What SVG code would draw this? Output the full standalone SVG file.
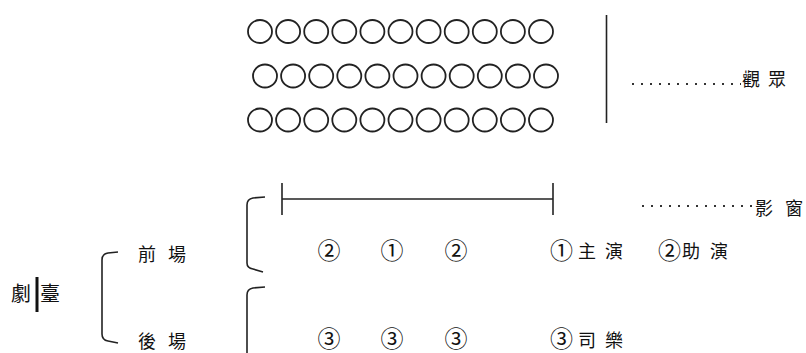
<svg xmlns="http://www.w3.org/2000/svg" width="806" height="353" viewBox="0 0 806 353">
<style>
.seat{fill:none;stroke:#222;stroke-width:1.8}
.ln{fill:none;stroke:#222;stroke-width:1.6}
.dot{fill:none;stroke:#333;stroke-width:2;stroke-dasharray:2 7}
.t{font-family:"Noto Sans CJK TC","Noto Sans CJK SC",sans-serif;font-size:18px;fill:#111}
.n{font-family:"Noto Sans CJK TC","Noto Sans CJK SC",sans-serif;font-size:23px;fill:#111;text-anchor:middle}
.c{font-size:23px}
</style>
<defs>
<ellipse id="s" class="seat" rx="12" ry="11.5"/>
<g id="row">
<use href="#s" x="0"/><use href="#s" x="28.1"/><use href="#s" x="56.2"/><use href="#s" x="84.3"/><use href="#s" x="112.4"/><use href="#s" x="140.5"/><use href="#s" x="168.6"/><use href="#s" x="196.7"/><use href="#s" x="224.8"/><use href="#s" x="252.9"/><use href="#s" x="281"/>
</g>
</defs>
<rect width="806" height="353" fill="#fff"/>
<g id="audience">
<use href="#row" x="260" y="31.5"/>
<use href="#row" x="265" y="76"/>
<use href="#row" x="260" y="120"/>
</g>
<g id="connectors">
<line class="ln" x1="606.5" y1="15" x2="606.5" y2="123"/>
<line class="dot" x1="632" y1="84" x2="741" y2="84"/>
<line class="ln" x1="282" y1="199" x2="553" y2="199"/>
<line class="ln" x1="282" y1="183" x2="282" y2="215"/>
<line class="ln" x1="553" y1="183" x2="553" y2="215"/>
<line class="dot" x1="642" y1="206" x2="752" y2="206"/>
<path class="ln" d="M118 252 L108 253 Q102 254 102 260 L102 334 Q102 340 108 341 L118 343"/>
<path class="ln" d="M265 197 L253 198 Q247 199 247 205 L247 263 Q247 268 253 269 L263 272"/>
<path class="ln" d="M265 287 L253 288 Q247 289 247 295 L247 353"/>
<line x1="37" y1="277" x2="37" y2="312" stroke="#111" stroke-width="3"/>
</g>
<g id="label-audience"><text class="t" x="742 768" y="85.5">觀眾</text></g>
<g id="label-screen"><text class="t" x="755 785" y="214.5">影窗</text></g>
<g id="label-stage"><text class="t" style="font-size:20px" x="11 40" y="301">劇臺</text></g>
<g id="label-front"><text class="t" x="138 168" y="260.5">前場</text></g>
<g id="label-back"><text class="t" x="138 168" y="348">後場</text></g>
<g id="front-positions">
<text class="n" x="329" y="259">②</text>
<text class="n" x="392" y="259">①</text>
<text class="n" x="456" y="259">②</text>
</g>
<g id="back-positions">
<text class="n" x="329" y="347">③</text>
<text class="n" x="392" y="347">③</text>
<text class="n" x="456" y="347">③</text>
</g>
<g id="legend-front">
<text class="t" y="258"><tspan class="c" x="550" dy="1">①</tspan><tspan x="578" dy="-1">主</tspan><tspan x="605">演</tspan></text>
<text class="t" y="258"><tspan class="c" x="658" dy="1">②</tspan><tspan x="682" dy="-1">助</tspan><tspan x="710">演</tspan></text>
</g>
<g id="legend-back">
<text class="t" y="347"><tspan class="c" x="550">③</tspan><tspan x="578">司</tspan><tspan x="605">樂</tspan></text>
</g>
</svg>
